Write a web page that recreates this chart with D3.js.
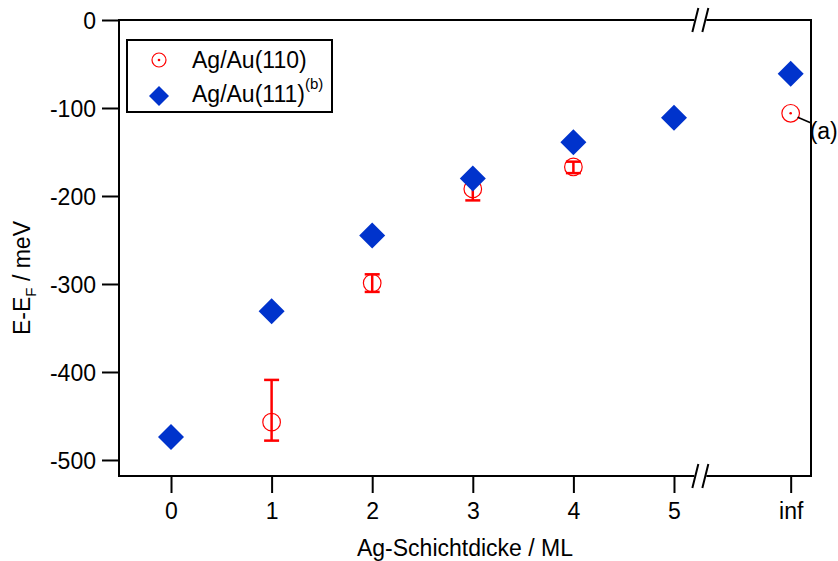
<!DOCTYPE html>
<html>
<head>
<meta charset="utf-8">
<script src="https://cdn.jsdelivr.net/npm/d3@7"></script>
<style>
  body { margin: 0; background: #fff; }
  text { font-family: Arial, "Liberation Sans", sans-serif; }
</style>
</head>
<body>
<div id="chart"></div>
<script>
// Schichtdicke in ML, "inf" = Volumen
let thickness = [0, 1, 2, 3, 4, 5, Infinity],
    tickLabels = ['0', '1', '2', '3', '4', '5', 'inf'],
    yTicks = [0, -100, -200, -300, -400, -500];

// Ag/Au(111) (b)
let au111 = [-474, -331, -245, -180, -139, -111, -61];

// Ag/Au(110)
let au110Thick = [1, 2, 3, 4, Infinity],
    au110 = [-457, -299, -192, -167, -106],
    au110Hi = [-409, -289, -182, -161, null],
    au110Lo = [-478, -309, -205, -174, null];

let width = 838, height = 561,
    margin = {left: 119, top: 20, right: 27, bottom: 85},
    fs = '23px';

// inf sits behind the axis break
let infPos = 6.16;
let pos = t => isFinite(t) ? t : infPos;

let x = d3.scaleLinear().domain([-0.517, 6.362]).range([margin.left, width - margin.right]);
let y = d3.scaleLinear().domain([-518.2, 0]).range([height - margin.bottom, margin.top]);

let svg = d3.select('#chart').append('svg')
    .attr('width', width)
    .attr('height', height);

let x0 = x.range()[0], x1 = x.range()[1],
    yTop = y.range()[1], yBot = y.range()[0];
let breakX = x(5.262);

// axes
let yAxis = d3.axisLeft(y).tickValues(yTicks).tickSize(17).tickPadding(6).tickFormat(d => String(d));
svg.append('g')
    .attr('transform', `translate(${x0},0)`)
    .call(yAxis)
    .call(g => {
        g.select('.domain').remove();
        g.selectAll('line').attr('stroke-width', 2);
        g.selectAll('text').style('font-size', fs).attr('dy', '0.36em');
    });

let xAxis = d3.axisBottom(x).tickValues(thickness.map(pos)).tickSize(17).tickPadding(10)
    .tickFormat((d, i) => tickLabels[i]);
svg.append('g')
    .attr('transform', `translate(0,${yBot})`)
    .call(xAxis)
    .call(g => {
        g.select('.domain').remove();
        g.selectAll('line').attr('stroke-width', 2);
        g.selectAll('text').style('font-size', fs);
    });

// frame with breaks
let frame = svg.append('g').attr('stroke', '#000').attr('stroke-width', 2).attr('fill', 'none');
frame.append('line').attr('x1', x0).attr('x2', x0).attr('y1', yTop - 1).attr('y2', yBot + 1);
frame.append('line').attr('x1', x1).attr('x2', x1).attr('y1', yTop - 1).attr('y2', yBot + 1);
[yTop, yBot].forEach(yy => {
    frame.append('line').attr('x1', x0).attr('x2', breakX - 6).attr('y1', yy).attr('y2', yy);
    frame.append('line').attr('x1', breakX + 6).attr('x2', x1).attr('y1', yy).attr('y2', yy);
    [-5, 5].forEach(dx => {
        frame.append('line')
            .attr('x1', breakX + dx - 3).attr('y1', yy + 12)
            .attr('x2', breakX + dx + 3).attr('y2', yy - 12);
    });
});

// error bars
let eb = svg.append('g').attr('stroke', '#ff0000').attr('stroke-width', 2.5);
au110Thick.forEach((t, i) => {
    if (au110Hi[i] == null) return;
    let cx = x(pos(t));
    eb.append('line').attr('x1', cx).attr('x2', cx).attr('y1', y(au110Hi[i])).attr('y2', y(au110Lo[i]));
    [au110Hi[i], au110Lo[i]].forEach(v => {
        eb.append('line').attr('x1', cx - 7.5).attr('x2', cx + 7.5).attr('y1', y(v)).attr('y2', y(v));
    });
});

// Au(110) circles
svg.append('g').selectAll('circle')
    .data(au110Thick.map((t, i) => ({t: t, v: au110[i]})))
    .join('circle')
    .attr('cx', d => x(pos(d.t)))
    .attr('cy', d => y(d.v))
    .attr('r', 8.8)
    .attr('fill', 'none')
    .attr('stroke', '#ff0000')
    .attr('stroke-width', 1.2);

// centre dot on the bulk value
svg.append('circle')
    .attr('cx', x(infPos)).attr('cy', y(au110[au110.length - 1]))
    .attr('r', 1.3).attr('fill', '#ff0000');

// Au(111) diamonds
let diamond = d3.symbol().type(d3.symbolSquare).size(338);
svg.append('g').selectAll('path')
    .data(thickness.map((t, i) => ({t: t, v: au111[i]})))
    .join('path')
    .attr('d', diamond)
    .attr('transform', d => `translate(${x(pos(d.t))},${y(d.v)}) rotate(45)`)
    .attr('fill', '#0033cc');

// annotation (a)
let ax = x(infPos), ay = y(au110[au110.length - 1]);
svg.append('line')
    .attr('x1', ax + 7).attr('y1', ay + 4)
    .attr('x2', ax + 21).attr('y2', ay + 10)
    .attr('stroke', '#000').attr('stroke-width', 1.5);
svg.append('text')
    .attr('x', ax + 19).attr('y', ay + 26)
    .style('font-size', fs)
    .text('(a)');

// legend
let lg = svg.append('g');
lg.append('rect')
    .attr('x', 127).attr('y', 40).attr('width', 205).attr('height', 72)
    .attr('fill', '#fff').attr('stroke', '#000').attr('stroke-width', 2);
lg.append('circle').attr('cx', 159).attr('cy', 60).attr('r', 7)
    .attr('fill', 'none').attr('stroke', '#ff0000').attr('stroke-width', 1.2);
lg.append('circle').attr('cx', 159).attr('cy', 60).attr('r', 1.3).attr('fill', '#ff0000');
lg.append('path')
    .attr('d', d3.symbol().type(d3.symbolSquare).size(200))
    .attr('transform', 'translate(159,96) rotate(45)')
    .attr('fill', '#0033cc');
lg.append('text').attr('x', 192).attr('y', 68).style('font-size', fs).text('Ag/Au(110)');
let t2 = lg.append('text').attr('x', 192).attr('y', 102).style('font-size', fs);
t2.append('tspan').text('Ag/Au(111)');
t2.append('tspan').attr('dy', -13).style('font-size', '15px').text('(b)');

// axis titles
svg.append('text')
    .attr('x', (x0 + x1) / 2).attr('y', 556)
    .attr('text-anchor', 'middle')
    .style('font-size', fs)
    .text('Ag-Schichtdicke / ML');

let yl = svg.append('text')
    .attr('transform', 'translate(30,278) rotate(-90)')
    .attr('text-anchor', 'middle')
    .style('font-size', fs);
yl.append('tspan').text('E-E');
yl.append('tspan').attr('dy', 6).style('font-size', '15px').text('F');
yl.append('tspan').attr('dy', -6).text(' / meV');
</script>
</body>
</html>
